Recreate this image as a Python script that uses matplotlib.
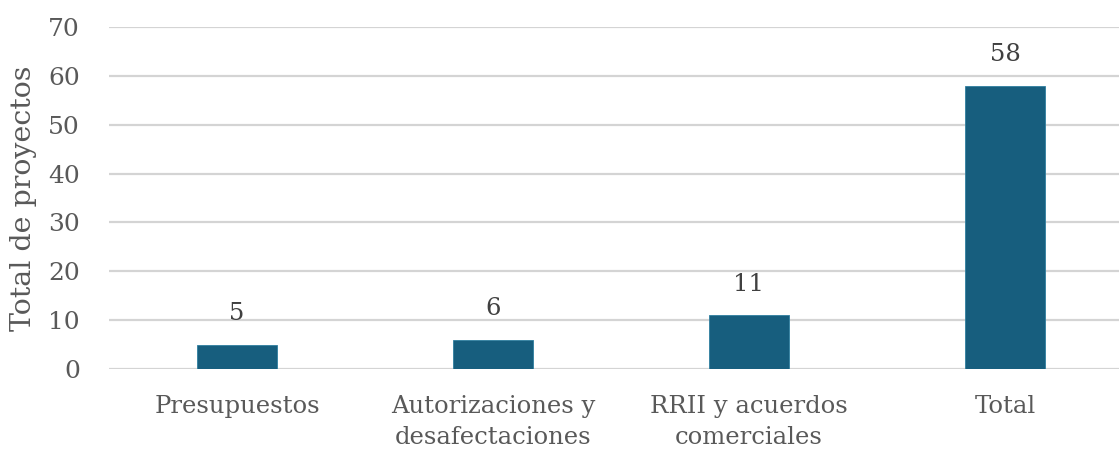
import matplotlib.pyplot as plt
import numpy as np

# Datos
categorias = ['Presupuestos', 'Autorizaciones y\ndesafectaciones',
              'RRII y acuerdos\ncomerciales', 'Total']
proyectos = [5, 6, 11, 58]
yticks = [0, 10, 20, 30, 40, 50, 60, 70]

gris = '#595959'
azul = '#175E7E'

plt.rcParams['font.family'] = 'DejaVu Serif'

fig = plt.figure(figsize=(11.19, 4.5), dpi=100)
ax = fig.add_axes([109 / 1119, 81 / 450, 1024 / 1119, 342 / 450])

x = np.arange(len(categorias))
ax.bar(x, proyectos, width=0.31, color=azul, edgecolor='#2f7fa0', linewidth=0.6, zorder=3)

for xi, v in zip(x, proyectos):
    ax.annotate(str(v), (xi, v), xytext=(0, 14), textcoords='offset points',
                ha='center', va='bottom', fontsize=17.5, color='#404040')

ax.set_xlim(-0.5, 3.5)
ax.set_ylim(0, 70)
ax.set_yticks(yticks)
ax.set_xticks(x)
ax.set_xticklabels(categorias, fontsize=17.5, color=gris, linespacing=1.45)
ax.tick_params(axis='y', labelsize=18, labelcolor=gris, length=0, pad=21)
ax.tick_params(axis='x', length=0, pad=19)
ax.grid(axis='y', color='#d4d4d4', linewidth=1.6, zorder=0)
for s in ax.spines.values():
    s.set_visible(False)

ax.set_ylabel('Total de proyectos', fontsize=20.5, color=gris, labelpad=8)

fig.savefig('out.png', dpi=100)
